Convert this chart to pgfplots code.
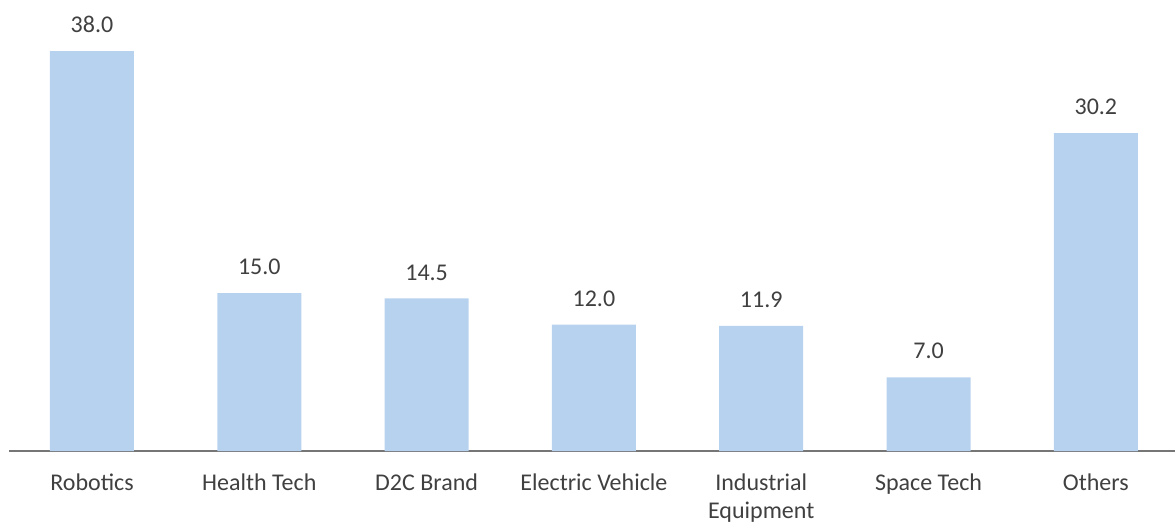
\documentclass[border=0pt]{standalone}
\usepackage{fontspec}
\setmainfont{Carlito}
\usepackage{pgfplots}
\pgfplotsset{compat=1.18}
\definecolor{barblue}{HTML}{B7D2EE}
\definecolor{labelgray}{HTML}{404040}
\definecolor{axisgray}{HTML}{767676}
\begin{document}
\begin{tikzpicture}
\begin{axis}[
    scale only axis,
    width=583bp,
    height=210.5bp,
    xmin=-0.496, xmax=6.473,
    ymin=0, ymax=40,
    hide y axis,
    axis x line*=bottom,
    x axis line style={-, draw=axisgray, line width=0.9bp},
    xtick=data,
    xticklabels={Robotics,Health Tech,D2C Brand,Electric Vehicle,{Industrial\\Equipment},Space Tech,Others},
    xticklabel style={align=center, inner sep=0pt, yshift=-11bp,
        font=\fontsize{12bp}{14.25bp}\selectfont, text=labelgray},
    major tick length=0pt,
    xtick style={draw=none},
    clip=false,
    point meta=explicit symbolic,
    nodes near coords,
    every node near coord/.append style={font=\fontsize{12bp}{14bp}\selectfont,
        text=labelgray, inner sep=0pt, anchor=south, yshift=8.9bp},
]
\addplot[ybar, bar width=0.502, fill=barblue, draw=none] coordinates {
    (0,38.0) [38.0]
    (1,15.0) [15.0]
    (2,14.5) [14.5]
    (3,12.0) [12.0]
    (4,11.9) [11.9]
    (5,7.0)  [7.0]
    (6,30.2) [30.2]
};
\end{axis}
\pgfresetboundingbox
\path[use as bounding box] (-4.5bp,-36bp) rectangle (583bp,225.5bp);
\end{tikzpicture}
\end{document}
